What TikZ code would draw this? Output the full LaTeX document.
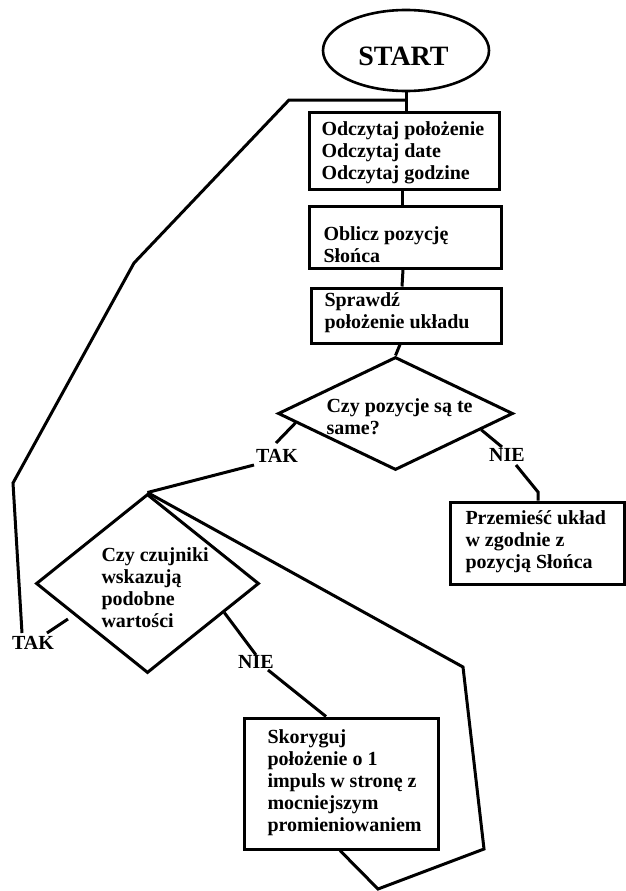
\documentclass[tikz,border=0pt]{standalone}
\usepackage{fontspec}
\setmainfont{Liberation Serif}
\usetikzlibrary{shapes.geometric,calc}
\begin{document}
\begin{tikzpicture}[x=1pt,y=-1pt,line width=3pt,
  txt/.style={font=\fontsize{20}{22}\selectfont\bfseries, inner sep=0pt, align=left, anchor=west},
  lbl/.style={font=\fontsize{20}{22}\selectfont\bfseries, inner sep=0pt},
  boxnode/.style={draw, rectangle, inner sep=0pt},
  decision/.style={draw, diamond, inner sep=0pt}]
\useasboundingbox (0,0) rectangle (625,891);
% terminator
\node[draw, ellipse, line width=2.6pt, minimum width=166pt, minimum height=81pt, inner sep=0pt] (start) at (406,50.5) {};
\node[font=\fontsize{28}{30}\selectfont\bfseries, inner sep=0pt] (starttxt) at (403.5,56.5) {START};
% process boxes
\node[boxnode, minimum width=190pt, minimum height=77pt] (b1) at (404,150.5) {};
\node[txt] (t1) at (320,153) {Odczytaj położenie\\Odczytaj date\\Odczytaj godzine};
\node[boxnode, minimum width=192pt, minimum height=62pt] (b2) at (405,237) {};
\node[txt] (t2) at (322,244.5) {Oblicz pozycję\\Słońca};
\node[boxnode, minimum width=190pt, minimum height=55pt] (b3) at (406,315.5) {};
\node[txt] (t3) at (323,312.5) {Sprawdź\\położenie układu};
\node[boxnode, minimum width=174pt, minimum height=82pt] (b4) at (537,543) {};
\node[txt] (t4) at (464,542) {Przemieść układ\\w zgodnie z\\pozycją Słońca};
\node[boxnode, minimum width=194pt, minimum height=131pt] (b5) at (341,783.5) {};
\node[txt] (t5) at (266,782.5) {Skoryguj\\położenie o 1\\impuls w stronę z\\mocniejszym\\promieniowaniem};
% decisions
\node[decision, minimum width=235pt, minimum height=113pt] (d1) at (395.5,413.5) {};
\node[txt] (td1) at (325,416.5) {Czy pozycje są te\\same?};
\node[decision, minimum width=223pt, minimum height=179pt] (d2) at (147.5,583.5) {};
\node[txt] (td2) at (100,588) {Czy czujniki\\wskazują\\podobne\\wartości};
% labels
\node[lbl] (tak1) at (277,456) {TAK};
\node[lbl] (nie1) at (507,455) {NIE};
\node[lbl] (tak2) at (33,643) {TAK};
\node[lbl] (nie2) at (256,662) {NIE};
% free ends
\coordinate (j0) at (start.south |- 0,100);
\coordinate (tak2in) at (22,633);
\coordinate (tak1a) at (276,443);
\coordinate (tak1b) at (254,465);
\coordinate (nie1a) at (502,447);
\coordinate (nie1b) at (516,465);
\coordinate (nie2a) at (256,655);
\coordinate (nie2b) at (268,670);
\coordinate (tak2a) at (47,633);
\coordinate (tak2b) at (68,619);
% connectors
\draw (start.south) -- (start.south |- b1.north);
\draw (b1.south -| 402,0) -- (b2.north -| 402,0);
\draw (b2.south -| 403,0) -- (b3.north -| 402,0);
\draw (b3.south -| 400,0) -- (d1.north);
\draw (j0) -- (289,100) -- (134,263) -- (13,483) -- (tak2in);
\draw ($(d1.west)!0.16!(d1.south)$) -- (tak1a);
\draw (tak1b) -- (d2.north);
\draw ($(d1.east)!0.28!(d1.south)$) -- (nie1a);
\draw (nie1b) -- (538,492) -- (b4.north -| 538,0);
\draw (d2.north) -- (463,667) -- (484,849) -- (378,889) -- (b5.south -| 340,0);
\draw ($(d2.east)!0.32!(d2.south)$) -- (nie2a);
\draw (nie2b) -- (b5.north -| 326,0);
\draw (tak2a) -- (tak2b);
\end{tikzpicture}
\end{document}
